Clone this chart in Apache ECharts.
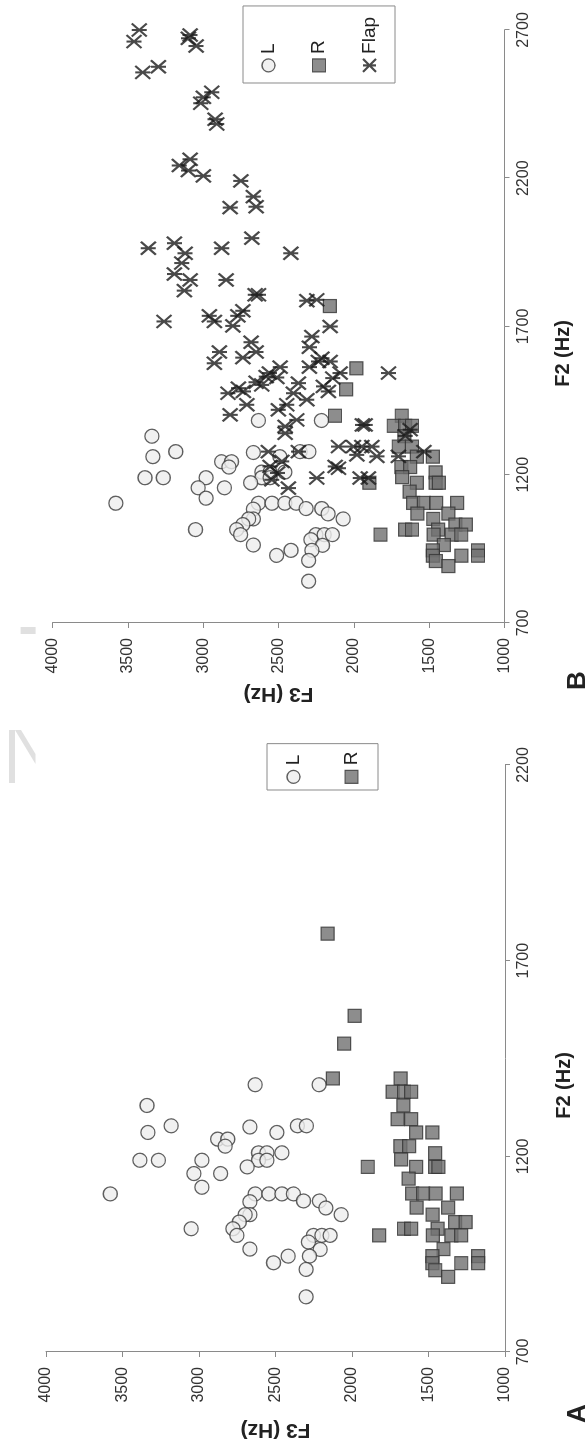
<!DOCTYPE html>
<html><head><meta charset="utf-8">
<script src="https://cdn.jsdelivr.net/npm/echarts@6/dist/echarts.min.js"></script>
<style>
html,body{margin:0;padding:0;background:#fff;overflow:hidden;width:588px;height:1453px;}
#chart{position:absolute;left:0;top:0;width:1453px;height:588px;transform-origin:0 0;transform:translate(0,1453px) rotate(-90deg);}
</style></head><body><div id="chart"></div>
<script>
// Data: [F2 (Hz), F3 (Hz)]
const L = [[1383,2633],[1383,2215],[1330,3340],[1278,3182],[1261,3334],[1275,2667],[1261,2491],[1278,2357],[1278,2298],[1244,2878],[1244,2812],[1226,2829],[1190,3386],[1190,3265],[1190,2981],[1156,3033],[1156,2859],[1121,2981],[1104,3580],[1209,2611],[1209,2556],[1209,2458],[1190,2611],[1190,2556],[1173,2685],[1104,2633],[1104,2543],[1104,2458],[1104,2383],[1086,2317],[1086,2213],[1068,2171],[1051,2071],[1084,2667],[1051,2667],[1051,2698],[1032,2737],[1015,2778],[998,2752],[1015,3051],[963,2667],[928,2513],[945,2417],[998,2252],[998,2197],[998,2143],[981,2285],[962,2208],[945,2278],[911,2300],[841,2300]];
const R = [[1769,2159],[1559,1983],[1488,2051],[1399,2125],[1399,1682],[1365,1735],[1365,1660],[1365,1614],[1330,1664],[1295,1702],[1295,1614],[1261,1581],[1261,1475],[1226,1684],[1226,1627],[1208,1457],[1192,1679],[1173,1581],[1173,1457],[1173,1436],[1173,1897],[1143,1630],[1105,1607],[1105,1535],[1105,1454],[1105,1315],[1069,1578],[1069,1372],[1051,1473],[1032,1326],[1032,1257],[1015,1660],[1015,1614],[1015,1441],[998,1823],[998,1471],[998,1351],[998,1287],[963,1402],[945,1475],[927,1475],[927,1286],[945,1176],[927,1176],[909,1456],[892,1372]];
const Flap = [[2700,3424],[2661,3459],[2683,3087],[2672,3098],[2646,3047],[2576,3297],[2557,3401],[2490,2943],[2473,2999],[2453,3016],[2399,2921],[2383,2910],[2264,3087],[2243,3158],[2226,3098],[2208,2999],[2191,2750],[2138,2667],[2104,2649],[2101,2821],[1998,2677],[1981,3191],[1964,3364],[1964,2877],[1947,3120],[1947,2418],[1914,3142],[1877,3191],[1857,3087],[1857,2848],[1821,3125],[1807,2655],[1807,2633],[1787,2312],[1790,2246],[1700,2157],[1717,3260],[1736,2959],[1717,2926],[1753,2737],[1736,2770],[1702,2803],[1666,2279],[1630,2295],[1647,2682],[1614,2649],[1614,2892],[1576,2926],[1595,2737],[1593,2212],[1582,2157],[1582,2235],[1563,2295],[1563,2489],[1543,2560],[1531,2582],[1528,2511],[1512,2649],[1503,2611],[1543,2091],[1526,2140],[1543,1770],[1509,2368],[1475,2401],[1498,2202],[1481,2169],[1492,2766],[1481,2733],[1475,2835],[1436,2710],[1402,2821],[1453,2312],[1419,2501],[1436,2445],[1385,2379],[1363,2456],[1340,2456],[1368,1943],[1368,1925],[1352,1626],[1331,1659],[1278,2567],[1278,2368],[1295,2102],[1295,2003],[1295,1947],[1295,1880],[1267,1980],[1262,1847],[1262,1704],[1278,1535],[1228,2556],[1245,2478],[1228,2124],[1222,2102],[1183,2544],[1155,2434],[1189,2246],[1189,1958],[1189,1903],[1206,2506]];
const F2_RANGE_A = [700, 2200];
const F2_RANGE_B = [700, 2700];
const F3_RANGE = [1000, 4000];
const TICK_STEP = 500;
const PANEL_LABELS = ['A', 'B'];

const FONT = '"Liberation Sans", Arial, Helvetica, sans-serif';
const FLAP_PATH = 'path://M0,0L12,12M12,0L0,12M6,0L6,12';
const styleL = {color:'#eeeeee', borderColor:'#383838', borderWidth:1.3};
const styleR = {color:'#717171', borderColor:'#333333', borderWidth:1.2};
const styleF = {color:'rgba(0,0,0,0)', borderColor:'#1c1c1c', borderWidth:2.2};
const plain = v => String(v);

function xAxisCfg(gi, range){
  return {type:'value', gridIndex:gi, min:range[0], max:range[1], interval:TICK_STEP,
    name:'F2 (Hz)', nameLocation:'middle', nameGap:49,
    nameTextStyle:{fontFamily:FONT, fontSize:20, fontWeight:'bold', color:'#222', padding:[0,54,0,0]},
    axisLine:{show:true, lineStyle:{color:'#8a8a8a', width:1}},
    axisTick:{show:true, length:5, lineStyle:{color:'#8a8a8a'}},
    axisLabel:{fontFamily:FONT, fontSize:16, color:'#333', margin:11, formatter:plain},
    splitLine:{show:false}};
}
function yAxisCfg(gi, gap){
  return {type:'value', gridIndex:gi, position:'left', min:F3_RANGE[0], max:F3_RANGE[1], interval:TICK_STEP,
    name:'F3 (Hz)', nameLocation:'middle', nameRotate:90, nameGap:gap,
    nameTextStyle:{fontFamily:FONT, fontSize:21, fontWeight:'bold', color:'#222'},
    axisLine:{show:true, lineStyle:{color:'#8a8a8a', width:1}},
    axisTick:{show:true, length:5, lineStyle:{color:'#8a8a8a'}},
    axisLabel:{fontFamily:FONT, fontSize:16, color:'#333', margin:15, formatter:plain},
    splitLine:{show:false}};
}
function sc(name, data, gi, symbol, size, st){
  return {type:'scatter', name, data, xAxisIndex:gi, yAxisIndex:gi, symbol, symbolSize:size,
    itemStyle:st, emphasis:{disabled:true}, silent:true};
}

const chart = echarts.init(document.getElementById('chart'), null, {renderer:'canvas'});
chart.setOption({
  animation:false,
  backgroundColor:'#ffffff',
  title:[
    {text:PANEL_LABELS[0], left:30, top:565, padding:0, textStyle:{fontFamily:FONT, fontSize:26, fontWeight:'bold', color:'#222'}},
    {text:PANEL_LABELS[1], left:763, top:565, padding:0, textStyle:{fontFamily:FONT, fontSize:26, fontWeight:'bold', color:'#222'}}
  ],
  grid:[
    {left:101, top:46, width:587, height:459, outerBoundsMode:'none'},
    {left:830, top:52.5, width:593, height:452, outerBoundsMode:'none'}
  ],
  xAxis:[xAxisCfg(0, F2_RANGE_A), xAxisCfg(1, F2_RANGE_B)],
  yAxis:[yAxisCfg(0, 67), yAxisCfg(1, 60)],
  legend:[
    {orient:'vertical', left:663, top:267, padding:[17,8,17,6], itemGap:39, itemWidth:13, itemHeight:13,
     borderColor:'#8a8a8a', borderWidth:1, backgroundColor:'#fff', selectedMode:false,
     textStyle:{fontFamily:FONT, fontSize:19, color:'#222'},
     data:[{name:'L', icon:'circle', itemStyle:styleL},{name:'R', icon:'rect', itemStyle:styleR}]},
    {orient:'vertical', left:1370, top:243, padding:[16,11,16,10], itemGap:31.5, itemWidth:13, itemHeight:13,
     borderColor:'#8a8a8a', borderWidth:1, backgroundColor:'#fff', selectedMode:false,
     textStyle:{fontFamily:FONT, fontSize:19, color:'#222'},
     data:[{name:'L', icon:'circle', itemStyle:styleL},{name:'R', icon:'rect', itemStyle:styleR},{name:'Flap', icon:FLAP_PATH, itemStyle:styleF}]}
  ],
  graphic:[
    {type:'rect', shape:{x:670, y:9, width:53, height:6}, style:{fill:'#e0e0e0'}, silent:true},
    {type:'polygon', shape:{points:[[723,15],[723,21],[699,35.6],[689,35.6]]}, style:{fill:'#e0e0e0'}, silent:true},
    {type:'rect', shape:{x:819, y:20.6, width:7, height:15}, style:{fill:'#e0e0e0'}, silent:true}
  ],
  series:[
    sc('L', L, 0, 'circle', 14, styleL),
    sc('R', R, 0, 'rect', 13, styleR),
    sc('L', L, 1, 'circle', 14, styleL),
    sc('R', R, 1, 'rect', 13, styleR),
    sc('Flap', Flap, 1, FLAP_PATH, [13,15], styleF)
  ]
});
</script></body></html>
